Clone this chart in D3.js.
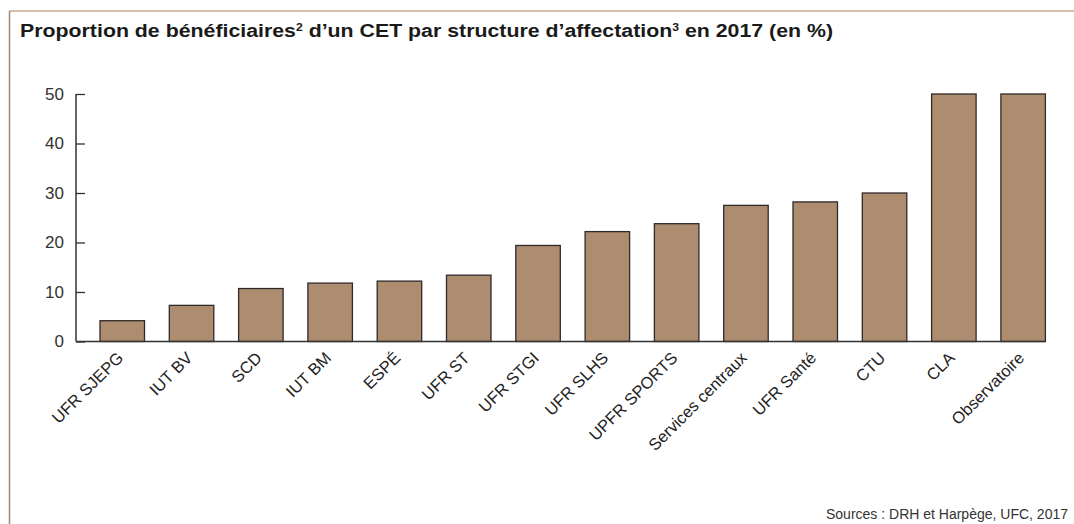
<!DOCTYPE html>
<html><head><meta charset="utf-8">
<script src="https://cdn.jsdelivr.net/npm/d3@7"></script>
<style>body{margin:0;background:#fff}svg{display:block;font-family:"Liberation Sans",Arial,sans-serif}</style>
</head><body>
<svg id="c" width="1074" height="524"></svg>
<script>
const categories = ["UFR SJEPG","IUT BV","SCD","IUT BM","ESPÉ","UFR ST","UFR STGI","UFR SLHS","UPFR SPORTS","Services centraux","UFR Santé","CTU","CLA","Observatoire"];
const values = [4.2,7.3,10.7,11.8,12.2,13.4,19.4,22.2,23.8,27.5,28.2,30,50,50];
const yTicks = [0,10,20,30,40,50];
const source = "Sources : DRH et Harpège, UFC, 2017";

const svg = d3.select("#c");
// frame
svg.append("line").attr("x1",9.5).attr("x2",1074).attr("y1",11).attr("y2",11).attr("stroke","#c9a98b").attr("stroke-width",1.5);
svg.append("line").attr("x1",9.5).attr("x2",9.5).attr("y1",11).attr("y2",524).attr("stroke","#a08868").attr("stroke-width",1.5);

// title
const t = svg.append("text").attr("x",20).attr("y",37).attr("font-size",17.5).attr("font-weight","bold").attr("fill","#1a1a1a")
  .attr("textLength",813).attr("lengthAdjust","spacingAndGlyphs");
t.append("tspan").text("Proportion de bénéficiaires");
t.append("tspan").text("2").attr("font-size",10).attr("dy",-6);
t.append("tspan").text(" d’un CET par structure d’affectation").attr("dy",6);
t.append("tspan").text("3").attr("font-size",10).attr("dy",-6);
t.append("tspan").text(" en 2017 (en %)").attr("dy",6);

const x0 = 76;
const step = 69.3, bw = 44.5, pi = (step-bw)/step;
const r0 = 100 - pi*step/2;
const x = d3.scaleBand().domain(categories)
  .range([r0, r0 + step*categories.length])
  .paddingInner(pi).paddingOuter(pi/2);
const y = d3.scaleLinear().domain([0,50]).range([341.5,94]);
const xEnd = x(categories[categories.length-1]) + x.bandwidth();

// bars
svg.append("g").selectAll("rect").data(categories).join("rect")
  .attr("x",d=>x(d))
  .attr("y",(d,i)=>y(values[i]))
  .attr("width",x.bandwidth())
  .attr("height",(d,i)=>y(0)-y(values[i]))
  .attr("fill","#ae8c70").attr("stroke","#2e2a28").attr("stroke-width",1.3);

// y axis
const ya = svg.append("g").attr("transform",`translate(${x0},0)`)
  .call(d3.axisRight(y).tickValues(yTicks).tickSize(9).tickSizeOuter(0));
ya.select(".domain").remove();
ya.selectAll(".tick line").attr("stroke","#333").attr("stroke-width",1.3);
ya.selectAll(".tick text").attr("x",-12).attr("text-anchor","end").attr("font-size",17).attr("fill","#333").attr("font-family","Liberation Sans, Arial, sans-serif");
svg.append("line").attr("x1",x0).attr("x2",x0).attr("y1",y(50)).attr("y2",y(0)).attr("stroke","#333").attr("stroke-width",1.5);
svg.append("line").attr("x1",x0).attr("x2",xEnd).attr("y1",y(0)).attr("y2",y(0)).attr("stroke","#333").attr("stroke-width",1.5);

// x labels
svg.append("g").selectAll("text").data(categories).join("text")
  .attr("transform",d=>`translate(${x(d)+x.bandwidth()/2+2},${359}) rotate(-45)`)
  .attr("text-anchor","end").attr("font-size",16.5).attr("fill","#222").text(d=>d);

// source
svg.append("text").attr("x",1068).attr("y",519).attr("text-anchor","end").attr("font-size",14).attr("fill","#333").text(source);
</script>
</body></html>
